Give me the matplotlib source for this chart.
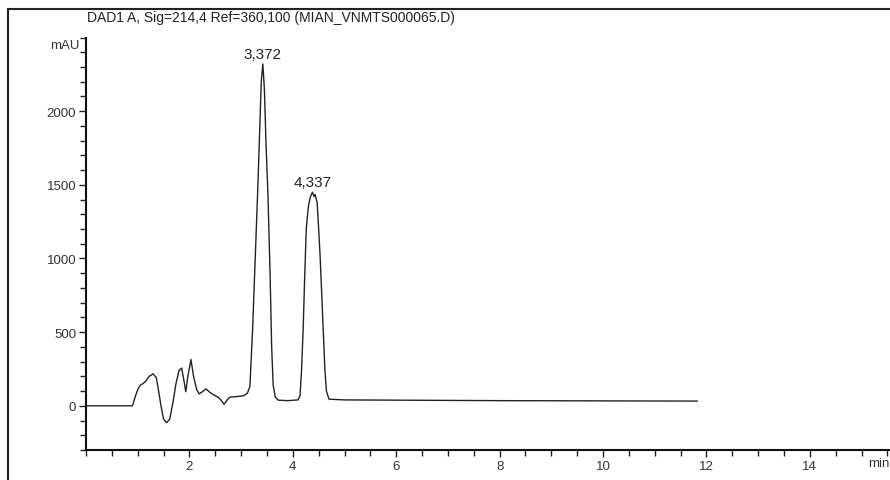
import matplotlib
matplotlib.use("Agg")
import matplotlib.pyplot as plt
from matplotlib.lines import Line2D
from matplotlib.ticker import MultipleLocator

plt.rcParams['font.family'] = ['Liberation Sans', 'DejaVu Sans']

title = "DAD1 A, Sig=214,4 Ref=360,100 (MIAN_VNMTS000065.D)"

# trace (min, mAU)
time_min = [0.0, 0.90, 0.95, 1.00, 1.05, 1.10, 1.15, 1.22, 1.30, 1.36, 1.40, 1.45,
            1.50, 1.56, 1.62, 1.68, 1.74, 1.80, 1.85, 1.89, 1.93, 1.97, 2.03, 2.08,
            2.14, 2.19, 2.25, 2.32, 2.40, 2.48, 2.57, 2.63, 2.67, 2.72, 2.78, 2.90,
            3.05, 3.12, 3.17, 3.22, 3.27, 3.32, 3.36, 3.39, 3.42, 3.45, 3.48, 3.52,
            3.56, 3.59, 3.62, 3.66, 3.72, 3.90, 4.10, 4.14, 4.17, 4.20, 4.23, 4.26,
            4.30, 4.34, 4.38, 4.41, 4.43, 4.47, 4.50, 4.53, 4.56, 4.59, 4.62, 4.65,
            4.70, 5.00, 8.00, 11.82]
signal_mau = [0, 0, 60, 110, 140, 150, 165, 200, 217, 190, 110, 0,
              -90, -115, -90, 20, 150, 240, 256, 180, 95, 200, 314, 200,
              110, 81, 95, 115, 90, 72, 55, 30, 10, 35, 59, 62,
              68, 85, 130, 500, 975, 1450, 1880, 2200, 2320, 2150, 1800, 1420,
              900, 409, 140, 60, 38, 35, 40, 70, 250, 520, 880, 1200,
              1350, 1420, 1450, 1420, 1435, 1380, 1200, 1000, 750, 500, 250, 100,
              45, 40, 35, 32]

peak_times = [3.42, 4.39]
peak_heights = [2320, 1450]
peak_labels = ["3,372", "4,337"]

W, H = 890, 481
fig = plt.figure(figsize=(W / 100, H / 100), dpi=100)
fig.patch.set_facecolor("white")

# outer frame (top and left only)
fig.add_artist(Line2D([8 / W, 1.0], [1 - 10 / H, 1 - 10 / H], color="#222222", lw=1.5))
fig.add_artist(Line2D([8 / W, 8 / W], [0.0, 1 - 10 / H], color="#222222", lw=1.5))

ax = fig.add_axes([86 / W, 30 / H, (W - 86) / W, (451 - 38.5) / H])
ax.plot(time_min, signal_mau, color="#222222", lw=1.0)

for t, h, lab in zip(peak_times, peak_heights, peak_labels):
    ax.annotate(lab, (t, h), xytext=(0, 2), textcoords="offset points",
                ha="center", va="bottom", fontsize=11, color="#222222")

ax.set_xlim(0, 15.55)
ax.set_ylim(-300, 2500)
for side in ("top", "right"):
    ax.spines[side].set_visible(False)
for side in ("left", "bottom"):
    ax.spines[side].set_linewidth(1.5)
    ax.spines[side].set_color("#111111")

ax.xaxis.set_minor_locator(MultipleLocator(0.5))
ax.yaxis.set_minor_locator(MultipleLocator(100))
ax.set_xticks([2, 4, 6, 8, 10, 12, 14])
ax.set_yticks([0, 500, 1000, 1500, 2000])
ax.tick_params(axis="both", which="major", length=5, width=1.0, colors="#222222",
               labelsize=9.5, labelcolor="#333333", pad=2)
ax.tick_params(axis="both", which="minor", length=4, width=1.0, colors="#222222")

ax.annotate("min", (1.0, 0.0), xycoords="axes fraction", xytext=(0, -5.3),
            textcoords="offset points", ha="right", va="top",
            fontsize=9.5, color="#333333")
ax.text(-0.12, 2450, "mAU", ha="right", va="center", fontsize=9.5, color="#333333")

fig.text(87 / W, 1 - 18 / H, title, ha="left", va="center", fontsize=10, color="#222222")

fig.savefig("out.png", dpi=100)
